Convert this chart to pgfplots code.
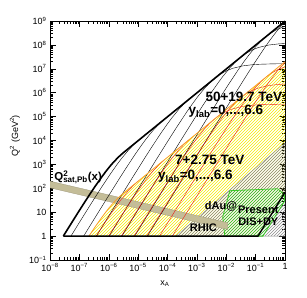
\documentclass[border=0pt]{standalone}
\usepackage{fontspec}
\setmainfont{Liberation Sans}
\usepackage{pgfplots}
\pgfplotsset{compat=1.18}
\usetikzlibrary{patterns}
\definecolor{bandc}{RGB}{196,189,152}
\definecolor{yhatch}{RGB}{245,235,0}
\definecolor{orgc}{RGB}{250,160,40}
\definecolor{redc}{RGB}{235,30,20}
\definecolor{grnc}{RGB}{60,200,40}
\definecolor{gryc}{RGB}{140,140,140}
\begin{document}
\begin{tikzpicture}
\begin{axis}[name=ax, scale only axis, width=235pt, height=239pt,
  xmin=-8, xmax=0, ymin=-1, ymax=9,
  xtick={-8,-7,-6,-5,-4,-3,-2,-1,0},
  xticklabels={10\textsuperscript{−8},10\textsuperscript{−7},10\textsuperscript{−6},10\textsuperscript{−5},10\textsuperscript{−4},10\textsuperscript{−3},10\textsuperscript{−2},10\textsuperscript{−1},1},
  ytick={-1,0,1,2,3,4,5,6,7,8,9},
  yticklabels={10\textsuperscript{−1},1,10,10\textsuperscript{2},10\textsuperscript{3},10\textsuperscript{4},10\textsuperscript{5},10\textsuperscript{6},10\textsuperscript{7},10\textsuperscript{8},10\textsuperscript{9}},
  minor xtick={-7.699,-7.523,-7.398,-7.301,-7.222,-7.155,-7.097,-7.046,
   -6.699,-6.523,-6.398,-6.301,-6.222,-6.155,-6.097,-6.046,
   -5.699,-5.523,-5.398,-5.301,-5.222,-5.155,-5.097,-5.046,
   -4.699,-4.523,-4.398,-4.301,-4.222,-4.155,-4.097,-4.046,
   -3.699,-3.523,-3.398,-3.301,-3.222,-3.155,-3.097,-3.046,
   -2.699,-2.523,-2.398,-2.301,-2.222,-2.155,-2.097,-2.046,
   -1.699,-1.523,-1.398,-1.301,-1.222,-1.155,-1.097,-1.046,
   -0.699,-0.523,-0.398,-0.301,-0.222,-0.155,-0.097,-0.046},
  minor ytick={-0.699,-0.523,-0.398,-0.301,-0.222,-0.155,-0.097,-0.046,
   0.301,0.477,0.602,0.699,0.778,0.845,0.903,0.954,
   1.301,1.477,1.602,1.699,1.778,1.845,1.903,1.954,
   2.301,2.477,2.602,2.699,2.778,2.845,2.903,2.954,
   3.301,3.477,3.602,3.699,3.778,3.845,3.903,3.954,
   4.301,4.477,4.602,4.699,4.778,4.845,4.903,4.954,
   5.301,5.477,5.602,5.699,5.778,5.845,5.903,5.954,
   6.301,6.477,6.602,6.699,6.778,6.845,6.903,6.954,
   7.301,7.477,7.602,7.699,7.778,7.845,7.903,7.954,
   8.301,8.477,8.602,8.699,8.778,8.845,8.903,8.954},
  tick align=inside, major tick length=6pt, minor tick length=3pt,
  every tick/.style={black, line width=0.5pt},
  axis line style={line width=0.8pt},
  tick label style={font=\fontsize{9}{10}\selectfont},
  xlabel={x\textsubscript{A}}, ylabel={Q\textsuperscript{2} (GeV\textsuperscript{2})},
  label style={font=\fontsize{9}{10}\selectfont},
  xlabel style={at={(axis description cs:0.489,-0.10)}, anchor=center},
  ylabel style={at={(axis description cs:-0.149,0.52)}, anchor=center},
]
% LHC yellow region
\addplot[draw=none, pattern=north east lines, pattern color=yhatch] coordinates {
 (-6.674,0) (-6.628,0.085) (-6.459,0.395) (-6.258,0.747) (-6.107,0.997) (-5.982,1.191) (-5.873,1.349) (-5.681,1.599) (-5.505,1.793) (0,7.298) (0,1.84) (-0.92,0)} -- cycle;
% dAu RHIC
\addplot[draw=gryc, line width=0.3pt, pattern=north east lines, pattern color=gryc] coordinates {
 (-3.72,0) (0,3.9) (0,0)} -- cycle;
% present DIS+DY
\addplot[draw=grnc, line width=0.8pt, pattern=north east lines, pattern color=grnc] coordinates {
 (-2.05,0) (-0.75,0) (-0.02,1.45) (-0.02,1.75) (-0.25,1.98) (-1.88,1.90) (-2.12,0.80)} -- cycle;
% Q2 sat band
\addplot[draw=bandc!80!black, line width=0.3pt, fill=bandc] coordinates {
 (-8,2.30) (-1.95,0.557) (-1.95,0.277) (-8,2.02)} -- cycle;
% FCC thin curves (y_lab = 0..6)
\addplot[black, line width=0.4pt] coordinates {(-4.684,0) (-3.772,1.823) (-2.773,3.823) (-1.768,5.823) (-1.282,6.777) (-1.051,7.221) (-0.726,7.823) (-0.525,8.175) (-0.374,8.425) (-0.249,8.619) (-0.140,8.777) (0,8.963)};
\addplot[black, line width=0.4pt] coordinates {(-5.118,0) (-3.641,2.954) (-2.637,4.954) (-2.151,5.908) (-1.920,6.352) (-1.595,6.954) (-1.394,7.306) (-1.243,7.556) (-1.009,7.908) (-0.817,8.158) (-0.641,8.352) (-0.465,8.510) (-0.273,8.644) (-0.039,8.760) (0,8.775)};
\addplot[black, line width=0.4pt] coordinates {(-5.553,0) (-4.510,2.085) (-3.506,4.085) (-3.020,5.039) (-2.789,5.483) (-2.464,6.085) (-2.263,6.437) (-2.112,6.687) (-1.878,7.039) (-1.686,7.289) (-1.510,7.483) (-1.334,7.641) (-1.142,7.775) (-0.908,7.891) (-0.556,7.994) (-0.231,8.040) (0,8.059)};
\addplot[black, line width=0.4pt] coordinates {(-5.987,0) (-5.378,1.217) (-4.374,3.217) (-3.888,4.171) (-3.657,4.615) (-3.332,5.217) (-3.131,5.569) (-2.980,5.819) (-2.746,6.171) (-2.554,6.421) (-2.378,6.615) (-2.202,6.773) (-2.010,6.907) (-1.776,7.023) (-1.424,7.125) (-1.099,7.172) (-0.868,7.190) (-0.382,7.208) (0,7.214)};
\addplot[black, line width=0.4pt] coordinates {(-6.421,0) (-6.247,0.348) (-5.243,2.348) (-4.757,3.302) (-4.526,3.746) (-4.201,4.348) (-4.000,4.700) (-3.849,4.950) (-3.615,5.302) (-3.423,5.552) (-3.247,5.746)};
\addplot[black, line width=0.4pt] coordinates {(-6.854,0) (-6.637,0.434) (-6.111,1.480) (-5.625,2.434) (-5.394,2.878) (-5.069,3.480) (-4.868,3.832) (-4.717,4.082) (-4.483,4.434) (-4.291,4.684) (-4.115,4.878)};
\addplot[black, line width=0.4pt] coordinates {(-7.287,0) (-6.980,0.611) (-6.674,1.213) (-6.494,1.565) (-6.263,2.009) (-6.107,2.301) (-5.938,2.611) (-5.737,2.963) (-5.586,3.213) (-5.352,3.565) (-5.160,3.815) (-4.984,4.009)};
% LHC red curves (y_lab = 0..6)
\addplot[redc, line width=0.4pt] coordinates {(-6.427,0) (-6.263,0.314) (-6.107,0.606) (-5.938,0.916) (-5.737,1.268) (-5.586,1.518) (-5.352,1.870) (-5.160,2.120) (-4.984,2.314)};
\addplot[redc, line width=0.4pt] coordinates {(-6.002,0) (-5.805,0.387) (-5.625,0.739) (-5.394,1.183) (-5.238,1.475) (-5.069,1.785) (-4.868,2.137) (-4.717,2.387) (-4.483,2.739) (-4.291,2.989) (-4.115,3.183)};
\addplot[redc, line width=0.4pt] coordinates {(-5.572,0) (-5.243,0.653) (-4.937,1.255) (-4.757,1.607) (-4.526,2.051) (-4.370,2.343) (-4.201,2.653) (-4.000,3.005) (-3.849,3.255) (-3.615,3.607) (-3.423,3.857) (-3.247,4.051)};
\addplot[redc, line width=0.4pt] coordinates {(-5.138,0) (-4.900,0.476) (-4.374,1.522) (-3.888,2.476) (-3.657,2.920) (-3.332,3.522) (-3.131,3.874) (-2.980,4.124) (-2.746,4.476) (-2.554,4.726) (-2.378,4.920) (-2.202,5.078) (-2.010,5.212) (-1.776,5.328) (-1.424,5.431) (-1.099,5.477) (-0.868,5.496) (-0.382,5.513) (0,5.519)};
\addplot[redc, line width=0.4pt] coordinates {(-4.705,0) (-4.510,0.390) (-3.506,2.390) (-3.020,3.344) (-2.789,3.788) (-2.464,4.390) (-2.263,4.742) (-2.112,4.992) (-1.878,5.344) (-1.686,5.594) (-1.510,5.788) (-1.334,5.946) (-1.142,6.080) (-0.908,6.196) (-0.556,6.299) (-0.231,6.345) (0,6.364)};
\addplot[redc, line width=0.4pt] coordinates {(-4.271,0) (-3.641,1.259) (-2.637,3.259) (-2.151,4.213) (-1.920,4.657) (-1.595,5.259) (-1.394,5.611) (-1.243,5.861) (-1.009,6.213) (-0.817,6.463) (-0.641,6.657) (-0.465,6.815) (-0.273,6.949) (-0.039,7.065) (0,7.080)};
\addplot[redc, line width=0.4pt] coordinates {(-3.836,0) (-2.773,2.128) (-1.768,4.128) (-1.282,5.082) (-1.051,5.526) (-0.726,6.128) (-0.525,6.480) (-0.374,6.730) (-0.249,6.924) (-0.140,7.082) (0,7.268)};
% LHC boundary
\addplot[orgc, line width=0.8pt] coordinates {(-6.674,0) (-6.628,0.085) (-6.459,0.395) (-6.258,0.747) (-6.107,0.997) (-5.982,1.191) (-5.873,1.349) (-5.681,1.599) (-5.505,1.793) (0,7.298)};
% FCC boundary
\addplot[black, line width=1.6pt] coordinates {(-7.546,0) (-7.501,0.090) (-7.195,0.692) (-7.015,1.044) (-6.784,1.488) (-6.628,1.780) (-6.459,2.090) (-6.258,2.442) (-6.107,2.692) (-5.982,2.886) (-5.873,3.044) (-5.681,3.294) (-5.505,3.488) (0,8.993)};
\addplot[black, line width=1.4pt] coordinates {(-7.546,0) (-0.92,0) (0,1.84)};
% labels
\node[font=\fontsize{13.5}{14}\selectfont\bfseries] at (axis cs:-1.40,5.83) {50+19.7 TeV};
\node[font=\fontsize{13.5}{14}\selectfont\bfseries] at (axis cs:-2.01,5.21) {y\textsubscript{lab}=0,...,6.6};
\node[font=\fontsize{13.5}{14}\selectfont\bfseries] at (axis cs:-2.56,3.18) {7+2.75 TeV};
\node[font=\fontsize{13.5}{14}\selectfont\bfseries] at (axis cs:-3.05,2.49) {y\textsubscript{lab}=0,...,6.6};
\node[font=\fontsize{11}{12}\selectfont\bfseries] at (axis cs:-2.18,1.23) {dAu@};
\node[font=\fontsize{11}{12}\selectfont\bfseries] at (axis cs:-2.78,0.35) {RHIC};
\node[font=\fontsize{11}{12}\selectfont\bfseries] at (axis cs:-0.91,1.09) {Present};
\node[font=\fontsize{11}{12}\selectfont\bfseries] at (axis cs:-0.91,0.61) {DIS+DY};
\node[font=\fontsize{11.5}{12}\selectfont\bfseries, anchor=west, inner sep=0pt] at (axis cs:-7.86,2.47) {Q\rlap{\textsuperscript{2}}\textsubscript{sat,Pb}(x)};
\end{axis}
\pgfresetboundingbox
\path ([shift={(-50pt,-37pt)}]ax.south west) rectangle ([shift={(22pt,21pt)}]ax.north east);
\end{tikzpicture}
\end{document}
